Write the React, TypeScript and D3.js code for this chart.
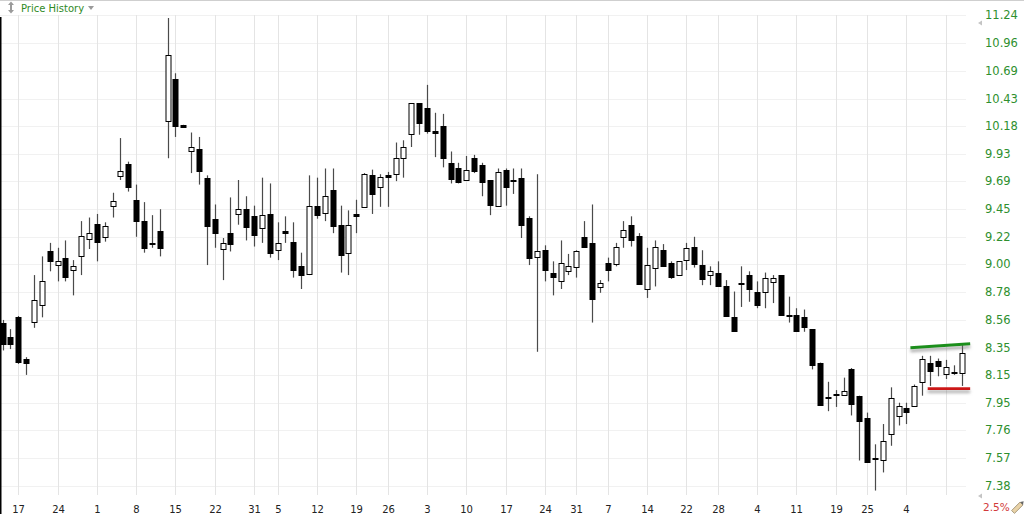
import * as d3 from "d3";

// daily OHLC (oldest first)
const opens = [
  8.54, 8.43, 8.58, 8.27, 8.54, 8.67, 9.1, 8.99, 9.05, 8.95, 9.07, 9.2, 9.33, 9.22, 9.48, 9.74, 9.84, 9.53, 9.35, 9.17,
  9.27, 10.23, 10.62, 10.19, 9.95, 9.97, 9.72, 9.37, 9.12, 9.25, 9.41, 9.45, 9.39, 9.29, 9.41, 9.11, 9.27, 9.18, 8.98, 8.92,
  9.48, 9.42, 9.61, 9.32, 9.09, 9.41, 9.47, 9.74, 9.64, 9.74, 9.75, 9.89, 10.11, 10.39, 10.34, 10.13, 10.18, 9.85, 9.8, 9.7,
  9.89, 9.83, 9.7, 9.48, 9.79, 9.7, 9.72, 9.38, 9.05, 9.11, 8.93, 8.87, 8.94, 8.97, 9.22, 9.17, 8.82, 9.01, 9.0, 9.22,
  9.32, 9.23, 8.8, 8.97, 9.11, 9.01, 8.91, 9.03, 9.14, 8.99, 8.91, 8.93, 8.82, 8.58, 8.85, 8.91, 8.78, 8.78, 8.86, 8.91,
  8.6, 8.6, 8.58, 8.49, 8.24, 7.99, 8.0, 8.0, 8.19, 8.0, 7.84, 7.56, 7.55, 7.73, 7.86, 7.91, 7.93, 8.1, 8.24, 8.25,
  8.16, 8.16, 8.16,
];
const highs = [
  8.56, 8.49, 8.59, 8.28, 8.91, 9.06, 9.17, 9.13, 9.19, 9.03, 9.35, 9.38, 9.41, 9.34, 9.59, 10.07, 9.86, 9.66, 9.51, 9.4,
  9.45, 11.21, 10.67, 10.19, 10.12, 10.08, 9.74, 9.49, 9.21, 9.55, 9.7, 9.56, 9.48, 9.72, 9.67, 9.34, 9.39, 9.34, 9.09, 9.74,
  9.72, 9.8, 9.8, 9.48, 9.44, 9.53, 9.76, 9.79, 9.75, 9.77, 10.03, 10.05, 10.39, 10.39, 10.56, 10.3, 10.29, 9.95, 9.85, 9.91,
  9.92, 9.85, 9.7, 9.8, 9.8, 9.8, 9.8, 9.39, 9.75, 9.15, 9.02, 9.19, 9.08, 9.11, 9.35, 9.49, 8.87, 9.05, 9.17, 9.35,
  9.39, 9.25, 9.13, 9.19, 9.16, 9.02, 9.02, 9.17, 9.22, 9.11, 8.98, 9.02, 8.87, 8.78, 8.98, 8.94, 8.86, 8.93, 8.91, 8.91,
  8.74, 8.65, 8.64, 8.49, 8.24, 8.1, 8.04, 8.13, 8.2, 8.0, 7.88, 7.66, 7.8, 8.06, 7.95, 7.95, 8.08, 8.29, 8.29, 8.27,
  8.26, 8.22, 8.37,
];
const lows = [
  8.33, 8.34, 8.23, 8.15, 8.5, 8.58, 8.94, 8.86, 8.86, 8.75, 8.91, 9.12, 9.02, 9.18, 9.38, 9.7, 9.6, 9.22, 9.09, 9.13,
  9.06, 9.89, 10.08, 10.17, 9.76, 9.66, 8.99, 9.13, 8.87, 9.1, 9.32, 9.19, 9.14, 9.17, 9.05, 9.03, 9.17, 8.89, 8.8, 8.91,
  9.37, 9.35, 9.25, 8.93, 8.91, 9.25, 9.47, 9.41, 9.47, 9.47, 9.69, 9.72, 9.99, 10.1, 10.11, 9.9, 9.81, 9.67, 9.67, 9.7,
  9.76, 9.56, 9.4, 9.48, 9.48, 9.58, 9.21, 8.99, 8.32, 8.86, 8.75, 8.8, 8.91, 8.89, 9.13, 8.54, 8.77, 8.86, 8.98, 9.13,
  9.14, 8.84, 8.73, 8.82, 8.98, 8.88, 8.91, 8.95, 8.97, 8.83, 8.83, 8.83, 8.59, 8.47, 8.66, 8.7, 8.65, 8.65, 8.69, 8.59,
  8.54, 8.47, 8.47, 8.19, 7.93, 7.89, 7.92, 8.0, 7.86, 7.55, 7.54, 7.35, 7.47, 7.65, 7.79, 7.8, 7.92, 8.0, 8.07, 8.14,
  8.12, 8.15, 8.07,
];
const closes = [
  8.38, 8.38, 8.24, 8.24, 8.71, 8.86, 9.02, 9.02, 8.9, 8.98, 9.23, 9.25, 9.18, 9.31, 9.52, 9.78, 9.64, 9.35, 9.13, 9.16,
  9.13, 10.85, 10.18, 10.17, 9.99, 9.78, 9.31, 9.25, 9.17, 9.16, 9.45, 9.3, 9.23, 9.4, 9.09, 9.17, 9.25, 8.95, 8.91, 9.48,
  9.4, 9.56, 9.31, 9.07, 9.32, 9.39, 9.75, 9.58, 9.73, 9.72, 9.89, 9.99, 10.39, 10.21, 10.13, 10.11, 9.89, 9.71, 9.68, 9.79,
  9.78, 9.68, 9.49, 9.77, 9.64, 9.69, 9.32, 9.05, 9.1, 8.95, 8.9, 9.01, 8.98, 9.1, 9.14, 8.72, 8.85, 8.95, 9.14, 9.28,
  9.2, 8.84, 8.99, 9.14, 8.98, 8.9, 9.02, 9.13, 9.0, 8.88, 8.94, 8.83, 8.59, 8.47, 8.84, 8.8, 8.68, 8.89, 8.89, 8.6,
  8.59, 8.48, 8.5, 8.22, 7.94, 7.98, 8.01, 8.03, 7.94, 7.82, 7.54, 7.57, 7.68, 7.98, 7.93, 7.88, 8.07, 8.27, 8.18, 8.21,
  8.21, 8.17, 8.31,
];

// date labels and the candle each one sits on
const xTickIdx = [2, 7, 12, 17, 22, 27, 32, 35, 40, 45, 49, 54, 59, 64, 69, 73, 77, 82, 87, 91, 96, 101, 106, 110, 115, 120];
const xTickLabels = ["17", "24", "1", "8", "15", "22", "31", "5", "12", "19", "26", "3", "10", "17", "24", "31", "7", "14", "22", "28", "4", "11", "19", "25", "4", ""];

const yTickLabels = [
  "11.24", "10.96", "10.69", "10.43", "10.18", "9.93", "9.69", "9.45", "9.22",
  "9.00", "8.78", "8.56", "8.35", "8.15", "7.95", "7.76", "7.57", "7.38",
];

// resistance / support lines drawn on the chart (candle index, price)
const resistIdx = [115.5, 123.1];
const resistVal = [8.35, 8.38];
const supportIdx = [117.7, 123.1];
const supportVal = [8.05, 8.05];

const W = 1024;
const H = 514;
const plotRight = 966;
const plotTop = 15;
const plotBottom = 495;

const App = () => {
  const x = d3.scaleLinear().domain([0, opens.length - 1]).range([2.5, 961.5]);
  const y = d3.scaleLog().domain([7.38, 11.24]).range([486, 15]);
  const font = "'DejaVu Sans', Verdana, sans-serif";

  const line = d3
    .line<[number, number]>()
    .x((d) => x(d[0]))
    .y((d) => y(d[1]));

  return (
    <svg
      width={W}
      height={H}
      style={{ position: "absolute", left: 0, top: 0, background: "#fff" }}
    >
      <defs>
        <filter id="shadow" x="-10%" y="-200%" width="120%" height="500%">
          <feDropShadow dx="0" dy="3" stdDeviation="1.4" floodColor="#777" floodOpacity="0.6" />
        </filter>
      </defs>

      {/* header */}
      <rect x={0} y={0} width={W} height={1} fill="#cfcfcf" />
      <g fill="#9a9a9a">
        <path d="M8,5 L11,1.5 L14,5 Z" />
        <path d="M8,10 L11,13.5 L14,10 Z" />
        <rect x={10} y={5} width={2} height={5} />
        <path d="M88,6 L94,6 L91,10 Z" />
      </g>
      <text x={21} y={12} fontFamily={font} fontSize={10} fill="#2f8a1f">
        Price History
      </text>

      {/* grid */}
      <g stroke="#f1f1f1" strokeWidth={1}>
        {yTickLabels.map((t) => (
          <line key={t} x1={0} x2={plotRight} y1={Math.round(y(+t)) + 0.5} y2={Math.round(y(+t)) + 0.5} />
        ))}
      </g>
      <g stroke="#e4e4e4" strokeWidth={1}>
        {xTickIdx.map((i) => (
          <line key={i} x1={Math.round(x(i)) + 0.5} x2={Math.round(x(i)) + 0.5} y1={plotTop} y2={plotBottom} />
        ))}
      </g>
      <rect x={0} y={17} width={1.5} height={H - 17} fill="#000" />

      {/* candles */}
      <g>
        {opens.map((o, i) => {
          const c = closes[i];
          const cx = Math.round(x(i));
          const yo = y(o);
          const yc = y(c);
          const top = Math.round(Math.min(yo, yc)) + 0.5;
          const h = Math.max(1, Math.round(Math.abs(yo - yc)));
          const up = c >= o;
          return (
            <g key={i}>
              <line x1={cx + 0.5} x2={cx + 0.5} y1={y(highs[i])} y2={y(lows[i])} stroke="#4a4a4a" strokeWidth={1.2} />
              <rect x={cx - 2} y={top} width={5} height={h} fill={up ? "#fff" : "#000"} stroke="#000" strokeWidth={1} />
            </g>
          );
        })}
      </g>

      {/* trend lines */}
      <g filter="url(#shadow)" fill="none" strokeWidth={2.8} strokeLinecap="butt">
        <path
          d={line(resistIdx.map((v, k) => [v, resistVal[k]] as [number, number])) ?? ""}
          stroke="#1f8f1f"
        />
        <path
          d={line(supportIdx.map((v, k) => [v, supportVal[k]] as [number, number])) ?? ""}
          stroke="#cc1515"
        />
      </g>

      {/* right axis */}
      <g fontFamily={font} fontSize={11.5} fill="#2e8f2e">
        {yTickLabels.map((t) => (
          <text key={t} x={985} y={y(+t)} dominantBaseline="central">
            {t}
          </text>
        ))}
      </g>
      <g fill="#c4c4c4">
        <path d="M978,23 L982,20.5 L982,25.5 Z" />
        <path d="M978,496 L982,493.5 L982,498.5 Z" />
      </g>
      <text x={983} y={511} fontFamily={font} fontSize={10.5} fill="#d23a3a">
        2.5%
      </text>
      <g transform="translate(1018,507) rotate(-45)">
        <rect x={-7} y={-2} width={12} height={4} fill="#e9d3a8" stroke="#9a8a6a" strokeWidth={0.8} />
        <path d="M5,-2 L8,0 L5,2 Z" fill="#666" />
      </g>

      {/* date axis */}
      <g fontFamily={font} fontSize={10} fill="#222" textAnchor="middle">
        {xTickIdx.map((i, k) => (
          <text key={i} x={Math.round(x(i)) + 0.5} y={513}>
            {xTickLabels[k]}
          </text>
        ))}
      </g>
    </svg>
  );
};

export default App;
